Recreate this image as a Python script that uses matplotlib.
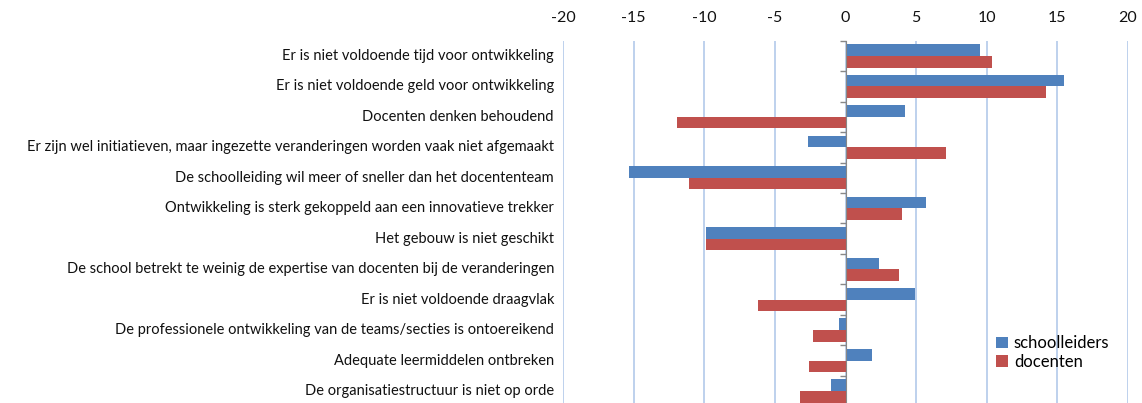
import numpy as np
import matplotlib
matplotlib.use('Agg')
import matplotlib.pyplot as plt
import matplotlib.transforms as mtransforms

# --- Data ---
CATEGORIES = [
    'Er is niet voldoende tijd voor ontwikkeling',
    'Er is niet voldoende geld voor ontwikkeling',
    'Docenten denken behoudend',
    'Er zijn wel initiatieven, maar ingezette veranderingen worden vaak niet afgemaakt',
    'De schoolleiding wil meer of sneller dan het docententeam',
    'Ontwikkeling is sterk gekoppeld aan een innovatieve trekker',
    'Het gebouw is niet geschikt',
    'De school betrekt te weinig de expertise van docenten bij de veranderingen',
    'Er is niet voldoende draagvlak',
    'De professionele ontwikkeling van de teams/secties is ontoereikend',
    'Adequate leermiddelen ontbreken',
    'De organisatiestructuur is niet op orde',
]
SCHOOLLEIDERS = [9.5, 15.5, 4.2, -2.65, -15.3, 5.7, -9.9, 2.4, 4.95, -0.45, 1.9, -1.0]
DOCENTEN = [10.4, 14.2, -11.9, 7.1, -11.1, 4.0, -9.9, 3.8, -6.2, -2.3, -2.6, -3.2]
X_TICKS = [-20, -15, -10, -5, 0, 5, 10, 15, 20]

BLUE = '#4F81BD'
RED = '#C0504D'
GRID = '#B3C9EA'
FONT = ['Lato', 'DejaVu Sans']

plt.rcParams['font.family'] = FONT

W, H = 1142, 403
fig = plt.figure(figsize=(W / 100, H / 100), dpi=100)
ax = fig.add_axes([563 / W, -3.2 / H, 565 / W, (406.2 - 40.7) / H])

y = np.arange(len(CATEGORIES))
bar_h = 0.38
ax.barh(y - 0.19, SCHOOLLEIDERS, height=bar_h, color=BLUE, label='schoolleiders', zorder=3)
ax.barh(y + 0.19, DOCENTEN, height=bar_h, color=RED, label='docenten', zorder=3)

ax.set_xlim(-20, 20)
ax.set_ylim(len(CATEGORIES) - 0.5, -0.5)

# vertical gridlines
ax.set_xticks(X_TICKS)
ax.xaxis.grid(True, color=GRID, linewidth=1.2, zorder=0)
ax.xaxis.tick_top()
ax.tick_params(axis='x', length=0, pad=11, labelsize=11.5, labelcolor='#111111')
ax.set_xticklabels([str(t) for t in X_TICKS])

for s in ['top', 'right', 'bottom']:
    ax.spines[s].set_visible(False)
# zero axis with category boundary ticks
ax.spines['left'].set_position(('data', 0))
ax.spines['left'].set_color('#888888')
ax.spines['left'].set_zorder(4)
ax.set_yticks(np.arange(-0.5, len(CATEGORIES), 1.0))
ax.set_yticklabels([])
ax.tick_params(axis='y', length=4, color='#888888', width=1)

# category labels to the left of the plot area
trans = mtransforms.blended_transform_factory(ax.transAxes, ax.transData)
offset = mtransforms.ScaledTranslation(-9 / 100, 0, fig.dpi_scale_trans)
for yi, lab in zip(y, CATEGORIES):
    ax.text(0, yi, lab, transform=trans + offset, ha='right', va='center',
            fontsize=10.5, color='#111111')

leg = ax.legend(loc='upper left', bbox_to_anchor=(988 / W, 1 - 327 / H),
                bbox_transform=fig.transFigure, frameon=False, fontsize=12,
                handlelength=0.7, handleheight=0.7, handletextpad=0.35,
                labelspacing=0.15, borderpad=0)

fig.savefig('out.png', dpi=100)
